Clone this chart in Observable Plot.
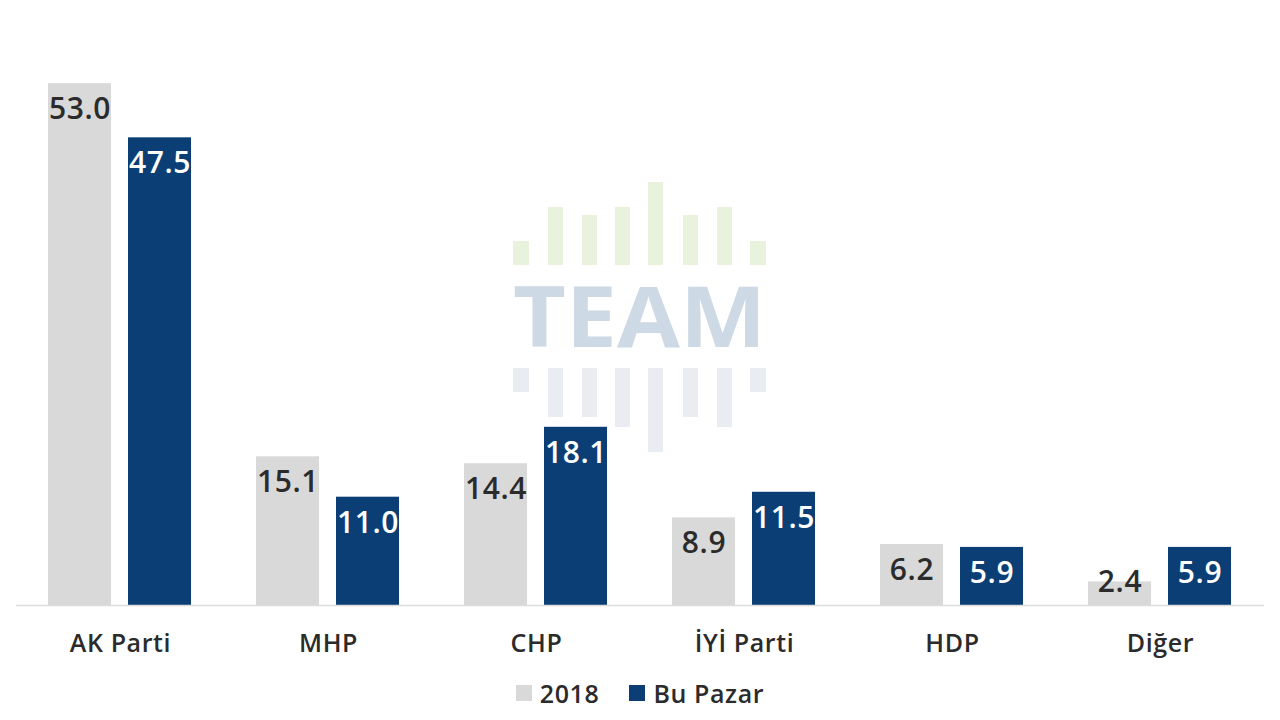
<!DOCTYPE html>
<html><head><meta charset="utf-8">
<script src="https://cdn.jsdelivr.net/npm/d3@7"></script>
<script src="https://cdn.jsdelivr.net/npm/@observablehq/plot@0.6"></script>
<style>
body{margin:0;background:#fff;font-family:"Open Sans",sans-serif;}
#wrap{position:relative;width:1280px;height:720px;overflow:hidden;}
#wm{position:absolute;left:0;top:0;z-index:0;}
#chart{position:absolute;left:0;top:0;z-index:1;}
#chart text{letter-spacing:0.6px;}
#legend{position:absolute;top:676px;left:0;width:1280px;display:flex;justify-content:center;align-items:center;gap:30px;font-size:25px;font-weight:600;color:#2b2b2b;letter-spacing:0.6px;}
#legend .it{display:flex;align-items:center;gap:8px;}
#legend .sw{width:16px;height:16px;display:inline-block;}
</style></head>
<body>
<div id="wrap">
<svg id="wm" width="1280" height="720">
  <g fill="#e8f2dc">
    <rect x="513" y="241" width="16" height="24"/>
    <rect x="548" y="207" width="15" height="58"/>
    <rect x="582" y="215" width="15" height="50"/>
    <rect x="615" y="207" width="15" height="58"/>
    <rect x="648" y="182" width="15" height="83"/>
    <rect x="683" y="215" width="15" height="50"/>
    <rect x="717" y="207" width="15" height="58"/>
    <rect x="750" y="241" width="16" height="24"/>
  </g>
  <text x="513" y="347" textLength="253" lengthAdjust="spacingAndGlyphs" font-family="Open Sans" font-weight="700" font-size="84" fill="#cdd9e5">TEAM</text>
  <g fill="#e9edf2">
    <rect x="513" y="368" width="16" height="24"/>
    <rect x="548" y="368" width="15" height="49"/>
    <rect x="582" y="368" width="15" height="49"/>
    <rect x="615" y="368" width="15" height="59"/>
    <rect x="648" y="368" width="15" height="84"/>
    <rect x="683" y="368" width="15" height="49"/>
    <rect x="717" y="368" width="15" height="59"/>
    <rect x="750" y="368" width="16" height="24"/>
  </g>
</svg>
<div id="chart"></div>
<div id="legend"></div>
</div>
<script>
const parties = ["AK Parti", "MHP", "CHP", "İYİ Parti", "HDP", "Diğer"];
const series = ["2018", "Bu Pazar"];
const values2018 = [53.0, 15.1, 14.4, 8.9, 6.2, 2.4];
const valuesBuPazar = [47.5, 11.0, 18.1, 11.5, 5.9, 5.9];
const colors = ["#d9d9d9", "#0a3e74"];
const labelColors = ["#2b2b2b", "#ffffff"];

const data = [];
parties.forEach((p, i) => {
  data.push({party: p, series: series[0], value: values2018[i]});
  data.push({party: p, series: series[1], value: valuesBuPazar[i]});
});

const chart = Plot.plot({
  width: 1280,
  height: 665,
  marginTop: 30,
  marginBottom: 60,
  marginLeft: 14,
  marginRight: 15,
  style: {background: "transparent", fontFamily: "Open Sans, sans-serif"},
  fx: {domain: parties, padding: 0, label: null},
  x: {domain: series, paddingInner: 0.21, paddingOuter: 0.4, axis: null},
  y: {domain: [0, 58.4], axis: null},
  color: {domain: series, range: colors},
  marks: [
    Plot.barY(data, {fx: "party", x: "series", y: "value", fill: "series"}),
    Plot.ruleY([0], {stroke: "#dcdcdc", strokeWidth: 1.5}),
    Plot.text(data, {
      fx: "party", x: "series",
      y: d => Math.max(d.value - 2.64, 2.34),
      text: d => d.value.toFixed(1),
      fill: d => labelColors[series.indexOf(d.series)],
      fontSize: 30, fontWeight: 600, lineAnchor: "middle"
    }),
    Plot.axisFx({anchor: "bottom", tickSize: 0, tickPadding: 29, fontSize: 25, fontWeight: 600, fill: "#2b2b2b", label: null})
  ]
});
document.getElementById("chart").appendChild(chart);

const legend = document.getElementById("legend");
series.forEach((s, i) => {
  const it = document.createElement("div");
  it.className = "it";
  const sw = document.createElement("span");
  sw.className = "sw";
  sw.style.background = colors[i];
  const t = document.createElement("span");
  t.textContent = s;
  it.appendChild(sw); it.appendChild(t);
  legend.appendChild(it);
});
</script>
</body></html>
